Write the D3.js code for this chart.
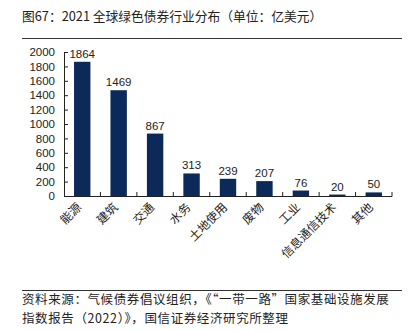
<!DOCTYPE html>
<html><head><meta charset="utf-8">
<script src="https://cdn.jsdelivr.net/npm/d3@7"></script>
<style>
html,body{margin:0;padding:0;background:#fff;}
svg{display:block;font-family:"Noto Sans CJK SC","Noto Sans",sans-serif;}
</style></head>
<body>
<svg id="c" width="412" height="331"></svg>
<script>
const categories = ["能源","建筑","交通","水务","土地使用","废物","工业","信息通信技术","其他"];
const values = [1864,1469,867,313,239,207,76,20,50];
const yTicks = [0,200,400,600,800,1000,1200,1400,1600,1800,2000];
const title = "图67：2021 全球绿色债券行业分布（单位：亿美元）";
const source1 = "资料来源：气候债券倡议组织，《“一带一路”国家基础设施发展";
const source2 = "指数报告（2022）》，国信证券经济研究所整理";

const svg = d3.select("#c");
const x = d3.scaleBand().domain(categories).range([64,392]).paddingInner(0.55).paddingOuter(0.275);
const y = d3.scaleLinear().domain([0,2000]).range([196,52]);

// title
svg.append("text").attr("x",22).attr("y",21).attr("font-size",12.75).attr("fill","#222").text(title);
svg.append("line").attr("x1",22).attr("x2",402).attr("y1",38.5).attr("y2",38.5).attr("stroke","#333").attr("stroke-width",1);

// bars
svg.selectAll("rect.bar").data(values).join("rect")
  .attr("x",(d,i)=>x(categories[i])).attr("width",x.bandwidth())
  .attr("y",d=>y(d)).attr("height",d=>y(0)-y(d)).attr("fill","#0b2a5a");

svg.selectAll("text.val").data(values).join("text")
  .attr("x",(d,i)=>x(categories[i])+x.bandwidth()/2).attr("y",d=>y(d)-4)
  .attr("text-anchor","middle").attr("font-size",11.5).attr("fill","#222")
  .attr("font-family","Liberation Sans, Arial, sans-serif").text(d=>d);

// y axis
const ya = svg.append("g").attr("transform","translate(64,0)")
  .call(d3.axisLeft(y).tickValues(yTicks).tickFormat(d3.format("d")).tickSizeInner(-4).tickSizeOuter(0).tickPadding(9));
ya.select(".domain").attr("stroke","#222");
ya.selectAll(".tick line").attr("stroke","#222");
ya.selectAll("text").attr("font-size",11.5).attr("fill","#222").attr("font-family","Liberation Sans, Arial, sans-serif");

// x axis
const bounds = d3.range(categories.length+1).map(i=>64 + i*(328/categories.length));
svg.append("line").attr("x1",64).attr("x2",392).attr("y1",196.5).attr("y2",196.5).attr("stroke","#222");
svg.selectAll("line.xt").data(bounds.slice(1)).join("line")
  .attr("x1",d=>d).attr("x2",d=>d).attr("y1",196.5).attr("y2",192).attr("stroke","#222");

svg.selectAll("text.xl").data(categories).join("text")
  .attr("transform",d=>`translate(${x(d)+x.bandwidth()/2},${208}) rotate(-45)`)
  .attr("text-anchor","end").attr("font-size",12).attr("fill","#222").text(d=>d);

// footer
svg.append("line").attr("x1",22).attr("x2",402).attr("y1",290.5).attr("y2",290.5).attr("stroke","#333");
svg.append("text").attr("x",22).attr("y",304).attr("font-size",12.5).attr("letter-spacing",0.6).attr("fill","#222").text(source1);
svg.append("text").attr("x",22).attr("y",323).attr("font-size",12.5).attr("letter-spacing",0.6).attr("fill","#222").text(source2);
</script>
</body></html>
